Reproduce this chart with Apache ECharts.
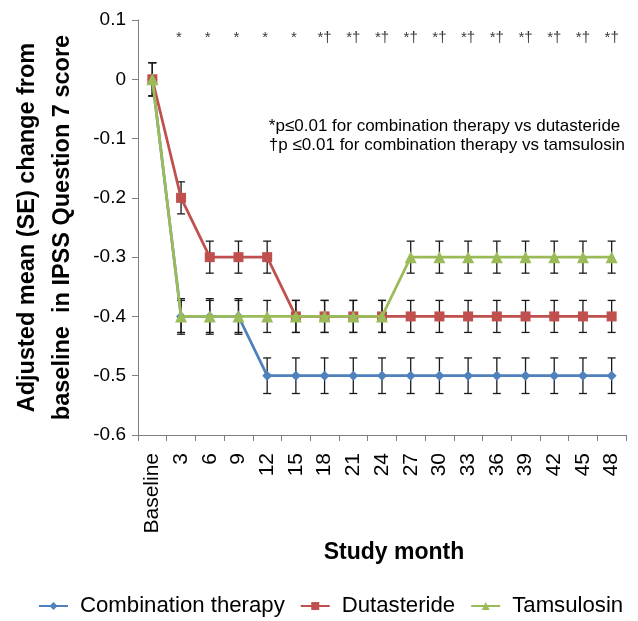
<!DOCTYPE html>
<html>
<head>
<meta charset="utf-8">
<script src="https://cdn.jsdelivr.net/npm/echarts@6/dist/echarts.min.js"></script>
<style>
  html, body { margin: 0; padding: 0; background: #fff; }
  #chart { width: 638px; height: 621px; }
</style>
</head>
<body>
<div id="chart"></div>
<script>
// categories
const months = ['Baseline', '3', '6', '9', '12', '15', '18', '21', '24', '27', '30', '33', '36', '39', '42', '45', '48'];

// adjusted mean change from baseline
const combination = [0, -0.4, -0.4, -0.4, -0.5, -0.5, -0.5, -0.5, -0.5, -0.5, -0.5, -0.5, -0.5, -0.5, -0.5, -0.5, -0.5];
const dutasteride = [0, -0.2, -0.3, -0.3, -0.3, -0.4, -0.4, -0.4, -0.4, -0.4, -0.4, -0.4, -0.4, -0.4, -0.4, -0.4, -0.4];
const tamsulosin  = [0, -0.4, -0.4, -0.4, -0.4, -0.4, -0.4, -0.4, -0.4, -0.3, -0.3, -0.3, -0.3, -0.3, -0.3, -0.3, -0.3];

// standard errors
const combinationSE = [0.028, 0.03, 0.03, 0.03, 0.03, 0.03, 0.03, 0.03, 0.03, 0.03, 0.03, 0.03, 0.03, 0.03, 0.03, 0.03, 0.03];
const dutasterideSE = [0.028, 0.027, 0.027, 0.027, 0.027, 0.027, 0.027, 0.027, 0.027, 0.027, 0.027, 0.027, 0.027, 0.027, 0.027, 0.027, 0.027];
const tamsulosinSE  = [0.028, 0.027, 0.027, 0.027, 0.027, 0.027, 0.027, 0.027, 0.027, 0.027, 0.027, 0.027, 0.027, 0.027, 0.027, 0.027, 0.027];

// significance markers above each month
const signif = ['', '* ', '* ', '* ', '* ', '* ', '*†', '*†', '*†', '*†', '*†', '*†', '*†', '*†', '*†', '*†', '*†'];
const signifY = 0.07;

const yTicks = { min: -0.6, max: 0.1, interval: 0.1 };

const font = 'Liberation Sans, Arial, Helvetica, sans-serif';

function errorData(values, se) {
  return values.map((v, i) => [i, v - se[i], v + se[i]]);
}

function errorSeries(values, se) {
  return {
    type: 'custom',
    z: 1,
    silent: true,
    data: errorData(values, se),
    encode: { x: 0, y: [1, 2] },
    renderItem: function (params, api) {
      const lo = api.coord([api.value(0), api.value(1)]);
      const hi = api.coord([api.value(0), api.value(2)]);
      const w = 4;
      const st = { stroke: '#1a1a1a', lineWidth: 1.3 };
      return {
        type: 'group',
        children: [
          { type: 'line', shape: { x1: lo[0], y1: lo[1], x2: hi[0], y2: hi[1] }, style: st },
          { type: 'line', shape: { x1: lo[0] - w, y1: lo[1], x2: lo[0] + w, y2: lo[1] }, style: st },
          { type: 'line', shape: { x1: hi[0] - w, y1: hi[1], x2: hi[0] + w, y2: hi[1] }, style: st }
        ]
      };
    }
  };
}

const chart = echarts.init(document.getElementById('chart'));

chart.setOption({
  animation: false,
  textStyle: { fontFamily: font },
  grid: { left: 138, right: 12, top: 20, bottom: 186, outerBoundsMode: 'none', containLabel: false },
  legend: {
    top: 595,
    left: 38,
    width: 640,
    padding: 0,
    itemWidth: 29,
    itemHeight: 10,
    itemGap: 15,
    textStyle: { fontSize: 22.2, color: '#000', fontFamily: font, padding: [0, 0, 0, 7] },
    data: ['Combination therapy', 'Dutasteride', 'Tamsulosin']
  },
  xAxis: {
    type: 'category',
    data: months,
    boundaryGap: true,
    name: 'Study month',
    nameLocation: 'middle',
    nameGap: 96,
    nameTextStyle: { fontSize: 23, fontWeight: 'bold', color: '#000', padding: [0, 0, 0, 24] },
    axisLine: { onZero: false, lineStyle: { color: '#7f7f7f', width: 1 } },
    axisTick: { show: true, alignWithLabel: false, length: 6, lineStyle: { color: '#7f7f7f' } },
    axisLabel: { rotate: 90, fontSize: 21, color: '#000', margin: 18, interval: 0 },
    splitLine: { show: false }
  },
  yAxis: {
    type: 'value',
    min: yTicks.min,
    max: yTicks.max,
    interval: yTicks.interval,
    name: 'Adjusted mean (SE) change from\nbaseline  in IPSS Question 7 score',
    nameLocation: 'middle',
    nameRotate: 90,
    nameGap: 58,
    nameTextStyle: { fontSize: 23.5, fontWeight: 'bold', color: '#000', lineHeight: 35 },
    axisLine: { show: true, lineStyle: { color: '#7f7f7f', width: 1 } },
    axisTick: { show: true, length: 6, lineStyle: { color: '#7f7f7f' } },
    axisLabel: {
      fontSize: 19, color: '#000', margin: 12,
      formatter: v => String(Math.round(v * 10) / 10)
    },
    splitLine: { show: false }
  },
  graphic: [
    {
      type: 'text', right: 13, top: 117,
      style: {
        text: '*p≤0.01 for combination therapy vs dutasteride\n†p ≤0.01 for combination therapy vs tamsulosin',
        fontSize: 17, fontFamily: font, fill: '#000', align: 'right', lineHeight: 19
      }
    }
  ],
  series: [
    errorSeries(combination, combinationSE),
    errorSeries(dutasteride, dutasterideSE),
    errorSeries(tamsulosin, tamsulosinSE),
    {
      name: 'Combination therapy', type: 'line', data: combination, z: 2,
      symbol: 'diamond', symbolSize: 10,
      itemStyle: { color: '#4f81bd' }, lineStyle: { color: '#4f81bd', width: 2.75 }
    },
    {
      name: 'Dutasteride', type: 'line', data: dutasteride, z: 3,
      symbol: 'rect', symbolSize: 10,
      itemStyle: { color: '#c0504d' }, lineStyle: { color: '#c0504d', width: 2.75 }
    },
    {
      name: 'Tamsulosin', type: 'line', data: tamsulosin, z: 4,
      symbol: 'triangle', symbolSize: 12,
      itemStyle: { color: '#9bbb59' }, lineStyle: { color: '#9bbb59', width: 2.75 }
    },
    {
      type: 'scatter', silent: true, symbolSize: 0,
      data: signif.map((s, i) => [i, signifY]),
      label: {
        show: true, position: 'inside', color: '#000', fontSize: 15,
        formatter: p => signif[p.dataIndex]
      }
    }
  ]
});
</script>
</body>
</html>
